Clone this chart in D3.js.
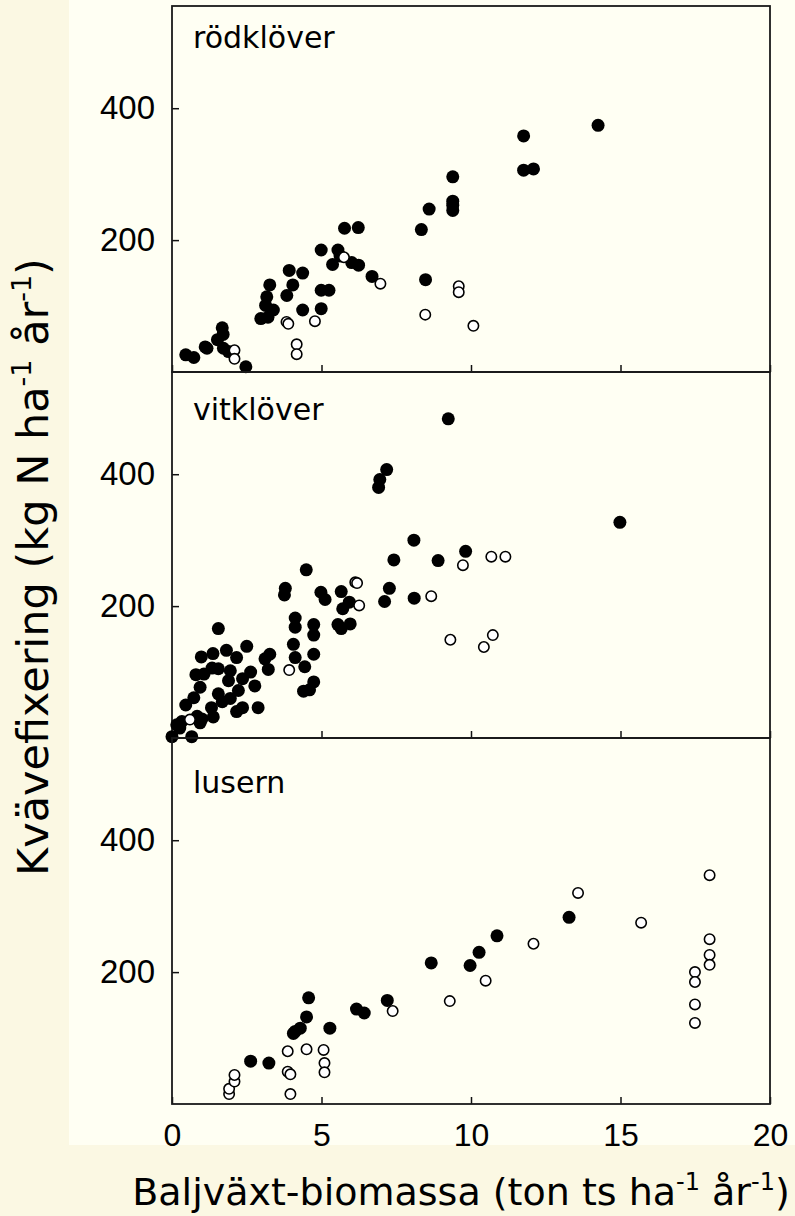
<!DOCTYPE html>
<html>
<head>
<meta charset="utf-8">
<script src="https://d3js.org/d3.v7.min.js"></script>
<style>
  body { margin: 0; background: #fbf8e3; }
  svg text { font-family: "Liberation Sans", Arial, sans-serif; fill: #000; }
  .panel-label, .axis-title { font-family: "DejaVu Sans", Verdana, sans-serif; }
</style>
</head>
<body>
<script>
// values, [biomassa, kvävefixering]
var rodkloverFilled = [
  [0.46, 26], [0.73, 22], [1.11, 38], [1.17, 36], [1.52, 49], [1.68, 67], [1.71, 57],
  [1.72, 36], [1.89, 31], [2.47, 8], [2.97, 81], [3.13, 101], [3.17, 114], [3.27, 132],
  [3.21, 83], [3.39, 94], [3.84, 116], [3.92, 154], [4.04, 132], [4.37, 150], [4.37, 94],
  [4.99, 185], [4.99, 124], [5.25, 124], [4.99, 96], [5.37, 163], [5.55, 185], [5.62, 176],
  [5.77, 218], [6.01, 166], [6.23, 219], [6.24, 162], [6.69, 145], [8.34, 216], [8.48, 140],
  [8.6, 247], [9.39, 296], [9.39, 259], [9.39, 253], [9.39, 245], [11.76, 358], [11.76, 306],
  [12.09, 308], [14.25, 374]
];
var rodkloverOpen = [
  [2.09, 33], [2.09, 20], [3.83, 76], [3.89, 73], [4.17, 42], [4.17, 27], [4.78, 77],
  [5.75, 174], [6.97, 134], [8.47, 87], [9.59, 130], [9.59, 121], [10.08, 70]
];

var vitkloverFilled = [
  [0, 2], [0.66, 2], [0.16, 20], [0.33, 25], [0.26, 15], [0.46, 50], [0.73, 61], [0.84, 33],
  [0.94, 23], [1.0, 29], [0.8, 96], [0.98, 123], [0.94, 77], [1.07, 97], [1.34, 106],
  [1.37, 128], [1.38, 32], [1.32, 46], [1.55, 166], [1.55, 67], [1.55, 105], [1.68, 55],
  [1.82, 133], [1.89, 87], [1.95, 60], [1.95, 102], [2.16, 122], [2.22, 72], [2.16, 40],
  [2.36, 46], [2.36, 90], [2.5, 139], [2.63, 100], [2.77, 79], [2.88, 46], [3.11, 120],
  [3.27, 127], [3.22, 104], [3.79, 227], [3.76, 217], [4.06, 142], [4.12, 182], [4.12, 168],
  [4.12, 122], [4.44, 108], [4.4, 71], [4.6, 73], [4.74, 85], [4.49, 255], [4.74, 172],
  [4.74, 156], [4.74, 127], [4.98, 221], [5.12, 210], [5.55, 172], [5.66, 166], [5.66, 222],
  [5.71, 196], [5.93, 206], [5.96, 173], [6.91, 380], [6.95, 392], [7.18, 407], [7.11, 207],
  [7.27, 227], [7.42, 270], [8.09, 300], [8.1, 212], [8.9, 269], [9.24, 484], [9.82, 283],
  [14.98, 327]
];
var vitkloverOpen = [
  [0.6, 28], [3.92, 103], [6.13, 236], [6.19, 235], [6.26, 201], [8.67, 215], [9.31, 149],
  [9.73, 262], [10.43, 138], [10.73, 156], [10.68, 275], [11.15, 275]
];

var lusernFilled = [
  [2.63, 65], [3.24, 62], [4.06, 107], [4.12, 110], [4.29, 115], [4.5, 132], [4.57, 161],
  [5.28, 115], [6.17, 144], [6.43, 138], [7.2, 157], [8.67, 214], [9.97, 210], [10.27, 230],
  [10.87, 255], [13.28, 283]
];
var lusernOpen = [
  [1.91, 15], [1.91, 23], [2.09, 34], [2.09, 44], [3.87, 80], [3.87, 49], [3.96, 45],
  [3.96, 15], [4.5, 83], [5.07, 82], [5.1, 62], [5.1, 48], [7.38, 141], [9.29, 156],
  [10.49, 187], [12.09, 243], [13.58, 320], [15.69, 275], [17.49, 200], [17.49, 185],
  [17.49, 151], [17.49, 123], [17.98, 347], [17.98, 250], [17.98, 226], [17.98, 211]
];

var panelNames = ["rödklöver", "vitklöver", "lusern"];
var xTickValues = [0, 5, 10, 15, 20];
var yTickValues = [200, 400];

var panels = [
  { name: panelNames[0], filled: rodkloverFilled, open: rodkloverOpen, labelDy: 42 },
  { name: panelNames[1], filled: vitkloverFilled, open: vitkloverOpen, labelDy: 48 },
  { name: panelNames[2], filled: lusernFilled, open: lusernOpen, labelDy: 55 }
];

var width = 795, height = 1216;
var plotLeft = 172, plotRight = 770, plotTop = 6, panelH = 366;

var svg = d3.select("body").append("svg")
  .attr("width", width)
  .attr("height", height);

// backgrounds
svg.append("rect").attr("width", width).attr("height", height).attr("fill", "#fbf8e3");
svg.append("rect").attr("x", 69).attr("y", 0)
  .attr("width", width - 69).attr("height", 1145)
  .attr("fill", "#fffff3");

var x = d3.scaleLinear().domain([0, 20]).range([plotLeft, plotRight]);

panels.forEach(function (p, i) {
  var y0 = plotTop + i * panelH;
  var y = d3.scaleLinear().domain([0, 555]).range([y0 + panelH, y0]);
  var last = i === panels.length - 1;
  var g = svg.append("g");

  // left axis, ticks pointing inward
  var ya = g.append("g")
    .attr("transform", "translate(" + plotLeft + ",0)")
    .call(d3.axisLeft(y).tickValues(yTickValues).tickSizeInner(-7).tickSizeOuter(0).tickPadding(17));
  ya.select(".domain").remove();
  ya.selectAll("line").attr("stroke", "#111").attr("stroke-width", 1.5);
  ya.selectAll("text").attr("font-size", 33).attr("font-family", null);

  // bottom axis, ticks pointing inward
  var xa = g.append("g")
    .attr("transform", "translate(0," + (y0 + panelH) + ")")
    .call(d3.axisBottom(x).tickValues(xTickValues).tickSizeInner(-7).tickSizeOuter(0).tickPadding(19)
      .tickFormat(last ? d3.format("d") : ""));
  xa.select(".domain").remove();
  xa.selectAll("line").attr("stroke", "#111").attr("stroke-width", 1.5);
  xa.selectAll("text").attr("font-size", 32).attr("font-family", null);

  // frame
  g.append("rect")
    .attr("x", plotLeft).attr("y", y0)
    .attr("width", plotRight - plotLeft).attr("height", panelH)
    .attr("fill", "none").attr("stroke", "#1a1a1a").attr("stroke-width", 1.8);

  g.append("text")
    .attr("class", "panel-label")
    .attr("x", 193).attr("y", y0 + p.labelDy)
    .attr("font-size", 30)
    .text(p.name);

  g.selectAll("circle.filled").data(p.filled).enter().append("circle")
    .attr("class", "filled")
    .attr("cx", function (d) { return x(d[0]); })
    .attr("cy", function (d) { return y(d[1]); })
    .attr("r", 6.5)
    .attr("fill", "#000");

  g.selectAll("circle.open").data(p.open).enter().append("circle")
    .attr("class", "open")
    .attr("cx", function (d) { return x(d[0]); })
    .attr("cy", function (d) { return y(d[1]); })
    .attr("r", 5.2)
    .attr("fill", "#fff")
    .attr("stroke", "#000")
    .attr("stroke-width", 1.6);
});

// axis titles, with "-1" exponents
function addTitle(sel, main, fs) {
  var sup = Math.round(fs * 0.62), up = Math.round(fs * 0.4);
  sel.attr("font-size", fs);
  sel.append("tspan").text(main + " ha");
  sel.append("tspan").attr("font-size", sup).attr("dy", -up).text("-1");
  sel.append("tspan").attr("dy", up).text(" år");
  sel.append("tspan").attr("font-size", sup).attr("dy", -up).text("-1");
  sel.append("tspan").attr("dy", up).text(")");
}

var yTitle = svg.append("text")
  .attr("class", "axis-title")
  .attr("transform", "translate(48,567) rotate(-90)")
  .attr("text-anchor", "middle");
addTitle(yTitle, "Kvävefixering (kg N", 43);

var xTitle = svg.append("text")
  .attr("class", "axis-title")
  .attr("x", 461).attr("y", 1205)
  .attr("text-anchor", "middle");
addTitle(xTitle, "Baljväxt-biomassa (ton ts", 38);
</script>
</body>
</html>
